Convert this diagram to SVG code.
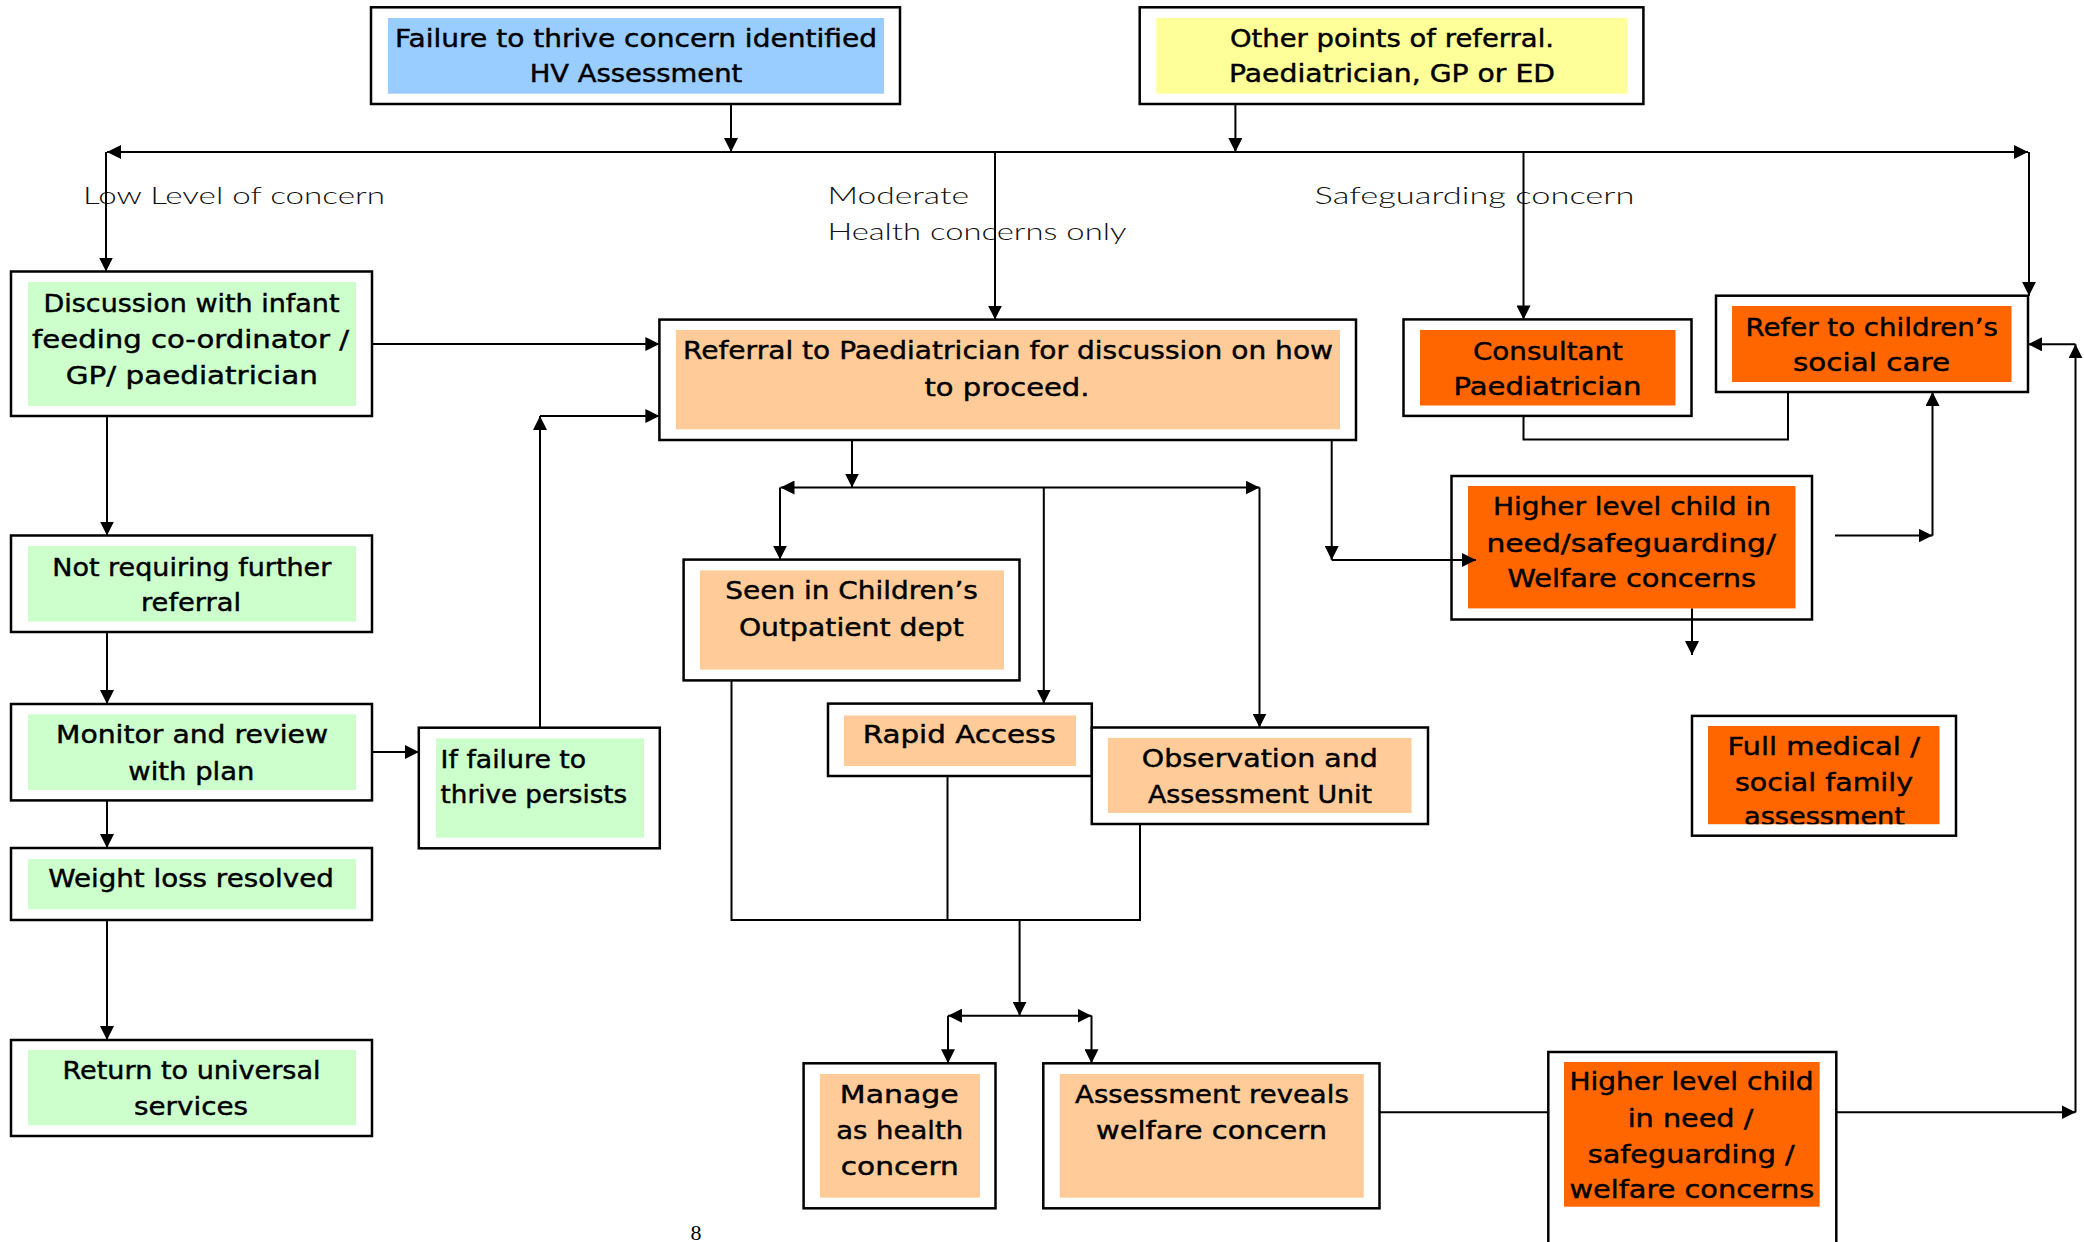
<svg xmlns="http://www.w3.org/2000/svg" width="2084" height="1242" viewBox="0 0 2084 1242">
<style>
.box{fill:#fff;stroke:#000;stroke-width:2.5}
.blue{fill:#99CCFF}.yellow{fill:#FFFF99}.green{fill:#CCFFCC}.peach{fill:#FFCC99}.orange{fill:#FF6600}
.t{font-family:"DejaVu Sans","Liberation Sans",sans-serif;font-size:25.5px;fill:#000;stroke:#000;stroke-width:0.45px;text-anchor:middle}
.s{text-anchor:start}
.lbl{font-family:Lato,"Liberation Sans",sans-serif;font-weight:300;font-size:24px;fill:#111}
.c{stroke:#000;stroke-width:2;fill:none}
.a{marker-end:url(#ah)}
.aa{marker-start:url(#ah2);marker-end:url(#ah)}
</style>
<defs>
<marker id="ah" markerUnits="userSpaceOnUse" viewBox="0 0 14 14" refX="14" refY="7" markerWidth="14" markerHeight="14" orient="auto"><path d="M0,0 L14,7 L0,14 z" fill="#000"/></marker>
<marker id="ah2" markerUnits="userSpaceOnUse" viewBox="0 0 14 14" refX="14" refY="7" markerWidth="14" markerHeight="14" orient="auto-start-reverse"><path d="M0,0 L14,7 L0,14 z" fill="#000"/></marker>
<clipPath id="fmclip"><rect x="1708" y="726" width="231.5" height="98.2"/></clipPath>
</defs>
<rect width="2084" height="1242" fill="#fff"/>

<g id="labels">
<text class="lbl" x="83" y="204" textLength="302" lengthAdjust="spacingAndGlyphs">Low Level of concern</text>
<text class="lbl" x="827.4" y="204" textLength="141.6" lengthAdjust="spacingAndGlyphs">Moderate</text>
<text class="lbl" x="827.4" y="240" textLength="299" lengthAdjust="spacingAndGlyphs">Health concerns only</text>
<text class="lbl" x="1314.5" y="204" textLength="320" lengthAdjust="spacingAndGlyphs">Safeguarding concern</text>
</g>

<g id="n-failure">
<rect class="box" x="371" y="7.3" width="529" height="96.7"/>
<rect class="blue" x="388" y="18" width="496" height="75.7"/>
<text class="t" x="636" y="46.7" textLength="482" lengthAdjust="spacingAndGlyphs">Failure to thrive concern identified</text>
<text class="t" x="636" y="81.7" textLength="212.7" lengthAdjust="spacingAndGlyphs">HV Assessment</text>
</g>

<g id="n-other">
<rect class="box" x="1139.7" y="7.3" width="503.7" height="96.7"/>
<rect class="yellow" x="1156.3" y="18" width="471.2" height="75.7"/>
<text class="t" x="1392" y="46.7" textLength="324" lengthAdjust="spacingAndGlyphs">Other points of referral.</text>
<text class="t" x="1392" y="81.7" textLength="326" lengthAdjust="spacingAndGlyphs">Paediatrician, GP or ED</text>
</g>

<g id="n-discussion">
<rect class="box" x="11" y="271.5" width="361" height="144.5"/>
<rect class="green" x="28" y="282" width="328" height="124"/>
<text class="t" x="191.5" y="311.7" textLength="296" lengthAdjust="spacingAndGlyphs">Discussion with infant</text>
<text class="t" x="190.5" y="348" textLength="317" lengthAdjust="spacingAndGlyphs">feeding co-ordinator /</text>
<text class="t" x="191.8" y="384.4" textLength="252" lengthAdjust="spacingAndGlyphs">GP/ paediatrician</text>
</g>

<g id="n-notrequiring">
<rect class="box" x="11" y="535.5" width="361" height="96.5"/>
<rect class="green" x="28" y="546" width="328" height="75.6"/>
<text class="t" x="191.8" y="575.7" textLength="279" lengthAdjust="spacingAndGlyphs">Not requiring further</text>
<text class="t" x="191" y="611.3" textLength="100" lengthAdjust="spacingAndGlyphs">referral</text>
</g>

<g id="n-monitor">
<rect class="box" x="11" y="704" width="361" height="96.4"/>
<rect class="green" x="28" y="714.3" width="328" height="75.7"/>
<text class="t" x="192" y="743" textLength="272" lengthAdjust="spacingAndGlyphs">Monitor and review</text>
<text class="t" x="191.3" y="779.7" textLength="126" lengthAdjust="spacingAndGlyphs">with plan</text>
</g>

<g id="n-iffailure">
<rect class="box" x="418.8" y="727.7" width="241" height="120.6"/>
<rect class="green" x="436" y="738.4" width="208" height="99.3"/>
<text class="t s" x="440.6" y="767.8" textLength="145.6" lengthAdjust="spacingAndGlyphs">If failure to</text>
<text class="t s" x="440.6" y="803.4" textLength="186.6" lengthAdjust="spacingAndGlyphs">thrive persists</text>
</g>

<g id="n-weight">
<rect class="box" x="11" y="848" width="361" height="72"/>
<rect class="green" x="28" y="859" width="328" height="50.3"/>
<text class="t" x="191" y="886.7" textLength="285.7" lengthAdjust="spacingAndGlyphs">Weight loss resolved</text>
</g>

<g id="n-return">
<rect class="box" x="11" y="1040" width="361" height="96"/>
<rect class="green" x="28" y="1050" width="328" height="75.3"/>
<text class="t" x="191.5" y="1079.3" textLength="258" lengthAdjust="spacingAndGlyphs">Return to universal</text>
<text class="t" x="191" y="1115" textLength="114" lengthAdjust="spacingAndGlyphs">services</text>
</g>

<g id="n-referral">
<rect class="box" x="659.4" y="319.6" width="696.6" height="120.4"/>
<rect class="peach" x="676" y="330" width="664" height="99.3"/>
<text class="t" x="1008" y="359" textLength="650" lengthAdjust="spacingAndGlyphs">Referral to Paediatrician for discussion on how</text>
<text class="t" x="1007" y="395.7" textLength="165" lengthAdjust="spacingAndGlyphs">to proceed.</text>
</g>

<g id="n-seen">
<rect class="box" x="683.6" y="559.6" width="335.9" height="120.8"/>
<rect class="peach" x="700" y="570.4" width="304" height="99.2"/>
<text class="t" x="851.6" y="599.3" textLength="252.6" lengthAdjust="spacingAndGlyphs">Seen in Children’s</text>
<text class="t" x="851.4" y="635.7" textLength="225" lengthAdjust="spacingAndGlyphs">Outpatient dept</text>
</g>

<g id="n-rapid">
<rect class="box" x="828" y="703.6" width="263.8" height="72.4"/>
<rect class="peach" x="844" y="715.4" width="232" height="50.6"/>
<text class="t" x="959.2" y="742.9" textLength="193" lengthAdjust="spacingAndGlyphs">Rapid Access</text>
</g>

<g id="n-observation">
<rect class="box" x="1091.8" y="727.5" width="336.2" height="96.5"/>
<rect class="peach" x="1108" y="737.9" width="303.5" height="75.1"/>
<text class="t" x="1259.8" y="766.8" textLength="236" lengthAdjust="spacingAndGlyphs">Observation and</text>
<text class="t" x="1260" y="802.9" textLength="224" lengthAdjust="spacingAndGlyphs">Assessment Unit</text>
</g>

<g id="n-consultant">
<rect class="box" x="1403.5" y="319.4" width="288" height="96.5"/>
<rect class="orange" x="1420" y="330" width="255.5" height="75.5"/>
<text class="t" x="1548" y="359.6" textLength="150" lengthAdjust="spacingAndGlyphs">Consultant</text>
<text class="t" x="1547.5" y="394.8" textLength="188" lengthAdjust="spacingAndGlyphs">Paediatrician</text>
</g>

<g id="n-refer">
<rect class="box" x="1716" y="295.7" width="312" height="96.3"/>
<rect class="orange" x="1732" y="306" width="279.5" height="76"/>
<text class="t" x="1871.7" y="335.5" textLength="252.5" lengthAdjust="spacingAndGlyphs">Refer to children’s</text>
<text class="t" x="1871.5" y="371" textLength="157" lengthAdjust="spacingAndGlyphs">social care</text>
</g>

<g id="n-higher1">
<rect class="box" x="1451.5" y="476" width="360.5" height="143.5"/>
<rect class="orange" x="1468" y="486" width="327.5" height="122.4"/>
<text class="t" x="1632" y="515.4" textLength="278" lengthAdjust="spacingAndGlyphs">Higher level child in</text>
<text class="t" x="1631.2" y="551.7" textLength="289.5" lengthAdjust="spacingAndGlyphs">need/safeguarding/</text>
<text class="t" x="1631.7" y="587" textLength="248.5" lengthAdjust="spacingAndGlyphs">Welfare concerns</text>
</g>

<g id="n-fullmedical">
<rect class="box" x="1692" y="715.9" width="264" height="119.8"/>
<rect class="orange" x="1708" y="726" width="231.5" height="98.2"/>
<g clip-path="url(#fmclip)">
<text class="t" x="1823.7" y="754.6" textLength="192.5" lengthAdjust="spacingAndGlyphs">Full medical /</text>
<text class="t" x="1824" y="790.9" textLength="178" lengthAdjust="spacingAndGlyphs">social family</text>
<text class="t" x="1824.5" y="825.3" textLength="161" lengthAdjust="spacingAndGlyphs">assessment</text>
</g>
</g>

<g id="n-manage">
<rect class="box" x="803.6" y="1063.3" width="191.9" height="145"/>
<rect class="peach" x="820" y="1074" width="160" height="123.7"/>
<text class="t" x="899.3" y="1103.3" textLength="119" lengthAdjust="spacingAndGlyphs">Manage</text>
<text class="t" x="899.7" y="1139.3" textLength="127" lengthAdjust="spacingAndGlyphs">as health</text>
<text class="t" x="899.8" y="1175" textLength="118" lengthAdjust="spacingAndGlyphs">concern</text>
</g>

<g id="n-assessment">
<rect class="box" x="1043.3" y="1063.3" width="336.2" height="145"/>
<rect class="peach" x="1059.8" y="1074" width="304" height="123.7"/>
<text class="t" x="1211.9" y="1103.3" textLength="273.7" lengthAdjust="spacingAndGlyphs">Assessment reveals</text>
<text class="t" x="1211.6" y="1139.3" textLength="231" lengthAdjust="spacingAndGlyphs">welfare concern</text>
</g>

<g id="n-higher2">
<rect class="box" x="1548.3" y="1052" width="288" height="220"/>
<rect class="orange" x="1564" y="1062" width="255.7" height="144.7"/>
<text class="t" x="1691.5" y="1090" textLength="244" lengthAdjust="spacingAndGlyphs">Higher level child</text>
<text class="t" x="1690.5" y="1126.7" textLength="125.7" lengthAdjust="spacingAndGlyphs">in need /</text>
<text class="t" x="1691.2" y="1162.7" textLength="207" lengthAdjust="spacingAndGlyphs">safeguarding /</text>
<text class="t" x="1691.9" y="1198.3" textLength="245" lengthAdjust="spacingAndGlyphs">welfare concerns</text>
</g>

<g id="connectors">
<line class="c a" x1="731" y1="104" x2="731" y2="152"/>
<line class="c a" x1="1235.4" y1="104" x2="1235.4" y2="152"/>
<line class="c aa" x1="107" y1="152" x2="2028" y2="152"/>
<line class="c a" x1="106" y1="152" x2="106" y2="271.5"/>
<line class="c a" x1="995" y1="152" x2="995" y2="319.6"/>
<line class="c a" x1="1523.5" y1="152" x2="1523.5" y2="319.4"/>
<line class="c a" x1="2029" y1="152" x2="2029" y2="295.7"/>
<line class="c a" x1="372" y1="344" x2="659.4" y2="344"/>
<line class="c a" x1="540" y1="727.7" x2="540" y2="416"/>
<line class="c a" x1="540" y1="416" x2="659.4" y2="416"/>
<line class="c a" x1="107" y1="416" x2="107" y2="535.5"/>
<line class="c a" x1="107" y1="632" x2="107" y2="704"/>
<line class="c a" x1="372" y1="752" x2="418.8" y2="752"/>
<line class="c a" x1="107" y1="800.4" x2="107" y2="848"/>
<line class="c a" x1="107" y1="920" x2="107" y2="1040"/>
<line class="c a" x1="852" y1="440" x2="852" y2="487.5"/>
<line class="c aa" x1="780.5" y1="487.5" x2="1259.5" y2="487.5"/>
<line class="c a" x1="780" y1="487.5" x2="780" y2="559.6"/>
<line class="c a" x1="1043.8" y1="487.5" x2="1043.8" y2="703.6"/>
<line class="c a" x1="1259.5" y1="487.5" x2="1259.5" y2="727.5"/>
<line class="c a" x1="1331.7" y1="440" x2="1331.7" y2="560"/>
<line class="c a" x1="1331.7" y1="560" x2="1476" y2="560"/>
<polyline class="c" points="1523.5,416 1523.5,439.6 1788,439.6 1788,392"/>
<line class="c a" x1="1835" y1="535.6" x2="1932.5" y2="535.6"/>
<line class="c a" x1="1932.5" y1="535.6" x2="1932.5" y2="392"/>
<line class="c a" x1="1692" y1="608.4" x2="1692" y2="655"/>
<polyline class="c" points="731.5,680.4 731.5,920 1140,920 1140,824"/>
<line class="c" x1="947.5" y1="776" x2="947.5" y2="920"/>
<line class="c a" x1="1019.6" y1="920" x2="1019.6" y2="1015.7"/>
<line class="c aa" x1="948" y1="1015.7" x2="1091.5" y2="1015.7"/>
<line class="c a" x1="948" y1="1015.7" x2="948" y2="1063.3"/>
<line class="c a" x1="1091.5" y1="1015.7" x2="1091.5" y2="1063.3"/>
<line class="c" x1="1379.5" y1="1112.3" x2="1548.3" y2="1112.3"/>
<line class="c a" x1="1836.3" y1="1112.3" x2="2075.5" y2="1112.3"/>
<line class="c a" x1="2075.5" y1="1112.3" x2="2075.5" y2="344.3"/>
<line class="c a" x1="2075.5" y1="344.3" x2="2028" y2="344.3"/>
</g>

<text x="696" y="1240" font-family="Liberation Serif, serif" font-size="22" text-anchor="middle" fill="#000">8</text>
</svg>
